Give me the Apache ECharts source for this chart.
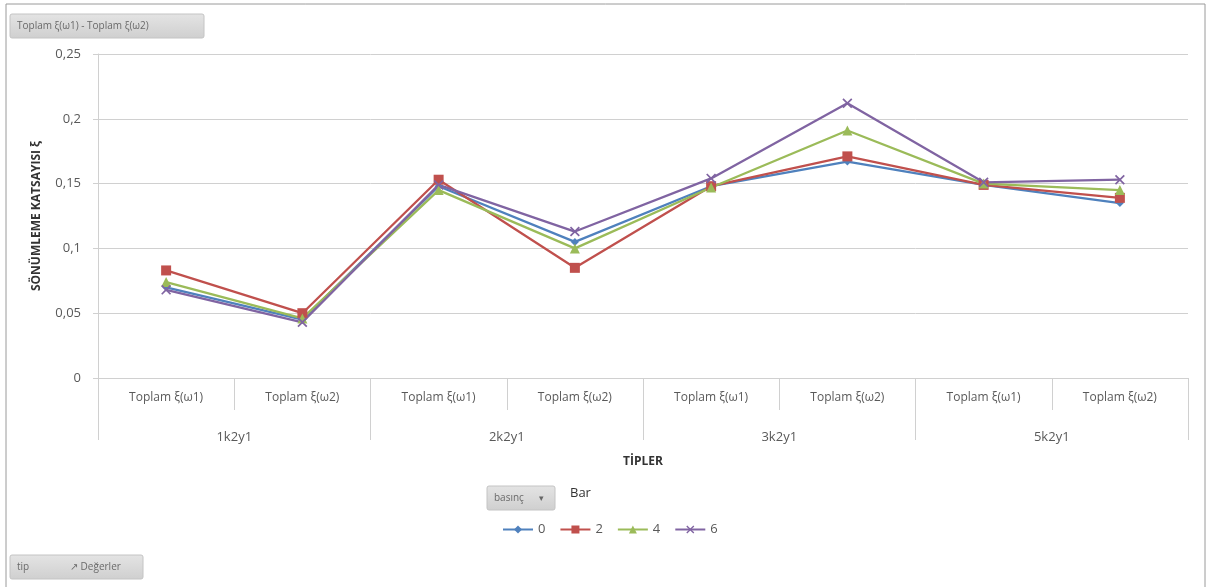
<!DOCTYPE html>
<html>
<head>
<meta charset="utf-8">
<script src="https://cdn.jsdelivr.net/npm/echarts@6/dist/echarts.min.js"></script>
<style>
  html, body { margin: 0; padding: 0; background: #fff; }
  #chart { width: 1210px; height: 587px; }
</style>
</head>
<body>
<div id="chart"></div>
<script>
// Sub-categories (one per point) and their groups
const subCategories = ['Toplam ξ(ω1)', 'Toplam ξ(ω2)', 'Toplam ξ(ω1)', 'Toplam ξ(ω2)',
                       'Toplam ξ(ω1)', 'Toplam ξ(ω2)', 'Toplam ξ(ω1)', 'Toplam ξ(ω2)'];
const groups = ['1k2y1', '2k2y1', '3k2y1', '5k2y1'];

// Damping ratio per pressure (Bar)
const bar0 = [0.070, 0.045, 0.148, 0.105, 0.148, 0.167, 0.149, 0.135];
const bar2 = [0.083, 0.050, 0.153, 0.085, 0.148, 0.171, 0.149, 0.139];
const bar4 = [0.074, 0.046, 0.145, 0.100, 0.147, 0.191, 0.150, 0.145];
const bar6 = [0.068, 0.043, 0.149, 0.113, 0.154, 0.212, 0.151, 0.153];

const yTicks = [0, 0.05, 0.1, 0.15, 0.2, 0.25];

const FONT = '"Open Sans", "Liberation Sans", sans-serif';
const TXT = '#595959';

const xMark = 'path://M0,1.2 L1.2,0 L5,3.8 L8.8,0 L10,1.2 L6.2,5 L10,8.8 L8.8,10 L5,6.2 L1.2,10 L0,8.8 L3.8,5 Z';

function lineSeries(name, data, color, symbol, size) {
  return {
    name, type: 'line', data,
    xAxisIndex: 0,
    symbol, symbolSize: size,
    lineStyle: { color, width: 2.3 },
    itemStyle: { color },
    emphasis: { disabled: true },
    animation: false
  };
}

function fieldButton(x, y, w, h, text, extra) {
  const children = [{
    type: 'rect',
    shape: { x: 0, y: 0, width: w, height: h, r: 2 },
    style: {
      fill: new echarts.graphic.LinearGradient(0, 0, 0, 1, [
        { offset: 0, color: '#e4e4e4' }, { offset: 1, color: '#cfcfcf' }
      ]),
      stroke: '#c4c4c4', lineWidth: 1
    }
  }, {
    type: 'text',
    style: { x: 7, y: h / 2, text, fill: '#6a6a6a', font: '10px ' + FONT, verticalAlign: 'middle' }
  }];
  if (extra) children.push(...extra);
  return { type: 'group', x, y, children };
}

const chart = echarts.init(document.getElementById('chart'), null, { renderer: 'canvas' });

chart.setOption({
  backgroundColor: '#ffffff',
  animation: false,
  textStyle: { fontFamily: FONT },
  grid: { left: 98, right: 22, top: 54, bottom: 209, containLabel: false },
  legend: {
    data: ['0', '2', '4', '6'],
    left: 497, top: 518,
    itemWidth: 30, itemHeight: 10, itemGap: 14,
    textStyle: { color: TXT, fontSize: 13, fontFamily: FONT },
    selectedMode: false
  },
  xAxis: [{
    type: 'category',
    data: subCategories,
    position: 'bottom',
    boundaryGap: true,
    axisLine: { show: true, lineStyle: { color: '#d0d0d0', width: 1 } },
    axisTick: { show: true, alignWithLabel: false, length: 32, lineStyle: { color: '#d0d0d0' } },
    axisLabel: { color: TXT, fontSize: 12, margin: 14, interval: 0 },
    splitLine: { show: false }
  }, {
    type: 'category',
    data: groups,
    position: 'bottom',
    boundaryGap: true,
    axisLine: { show: false },
    axisTick: { show: true, length: 62, lineStyle: { color: '#d0d0d0' } },
    axisLabel: { color: TXT, fontSize: 13, margin: 53, interval: 0 },
    name: 'TİPLER',
    nameLocation: 'middle',
    nameGap: 78,
    nameTextStyle: { color: '#333', fontWeight: 'bold', fontSize: 12 }
  }],
  yAxis: {
    type: 'value',
    min: 0, max: 0.25, interval: 0.05,
    axisLine: { show: true, lineStyle: { color: '#d0d0d0' } },
    axisTick: { show: true, length: 5, inside: false, lineStyle: { color: '#d0d0d0' } },
    axisLabel: {
      color: TXT, fontSize: 13, margin: 17,
      formatter: v => {
        const t = yTicks.find(k => Math.abs(k - v) < 1e-9);
        return String(+(t ?? v).toFixed(2)).replace('.', ',');
      }
    },
    splitLine: { show: true, lineStyle: { color: '#d0d0d0', width: 1 } },
    name: 'SÖNÜMLEME KATSAYISI ξ',
    nameLocation: 'middle',
    nameGap: 55,
    nameRotate: 90,
    nameTextStyle: { color: '#333', fontWeight: 'bold', fontSize: 12 }
  },
  series: [
    lineSeries('0', bar0, '#4F81BD', 'diamond', 8),
    lineSeries('2', bar2, '#C0504D', 'rect', 10),
    lineSeries('4', bar4, '#9BBB59', 'triangle', 10),
    lineSeries('6', bar6, '#8064A2', xMark, 10)
  ],
  graphic: [
    // chart frame
    { type: 'rect', shape: { x: 6, y: 4, width: 1199, height: 600 }, style: { fill: 'none', stroke: '#9a9a9a', lineWidth: 1 }, silent: true },
    // left y-axis line continues down past the category rows
    { type: 'line', shape: { x1: 98.5, y1: 378, x2: 98.5, y2: 440 }, style: { stroke: '#d0d0d0', lineWidth: 1 } },
    fieldButton(10, 14, 194, 24, 'Toplam ξ(ω1) - Toplam ξ(ω2)'),
    fieldButton(487, 486, 68, 24, 'basınç', [
      { type: 'text', style: { x: 52, y: 12, text: '▾', fill: '#666', font: '9px ' + FONT, verticalAlign: 'middle' } }
    ]),
    { type: 'text', left: 570, top: 487, style: { text: 'Bar', fill: '#333', font: '13px ' + FONT } },
    fieldButton(10, 555, 133, 24, 'tip', [
      { type: 'text', style: { x: 60, y: 12, text: '↗ Değerler', fill: '#6a6a6a', font: '10px ' + FONT, verticalAlign: 'middle' } }
    ])
  ]
});
</script>
</body>
</html>
